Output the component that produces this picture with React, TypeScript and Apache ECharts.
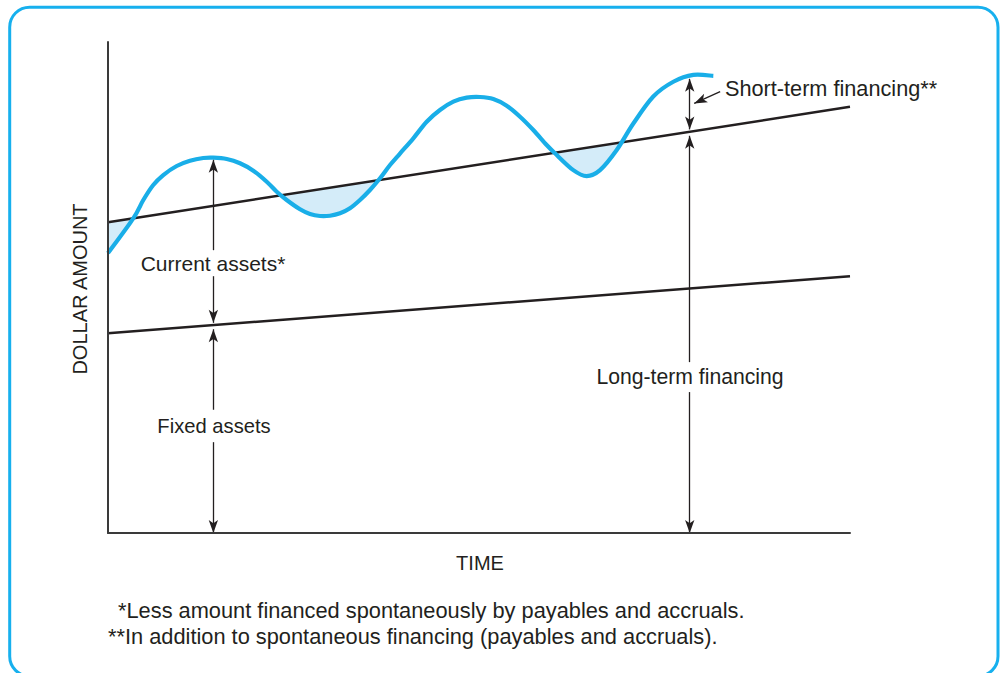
import React, { useEffect, useRef } from "react";
import * as echarts from "echarts";

// Time axis runs 0..100, dollar axis 0..100 (no tick labels shown)
const curveData: [number, number][] = [
  [0, 57.0], [3.41, 64.09], [4.76, 67.82], [6.1, 70.88], [7.45, 72.91], [9.26, 74.75],
  [11.05, 75.82], [12.84, 76.37], [14.19, 76.44], [16.0, 76.17], [17.79, 75.3], [19.58, 73.79],
  [21.39, 71.55], [22.74, 69.51], [24.08, 67.82], [25.88, 65.93], [27.22, 64.97], [28.57, 64.56],
  [29.92, 64.62], [31.27, 65.11], [32.61, 66.13], [33.96, 67.82], [35.31, 69.86], [36.66, 72.24],
  [38.01, 74.95], [39.35, 77.29], [41.15, 80.39], [42.95, 83.77], [44.74, 86.15], [46.54, 87.84],
  [48.34, 88.66], [50.13, 88.8], [51.93, 88.39], [53.73, 87.03], [55.53, 84.79], [57.32, 82.08],
  [59.12, 79.02], [60.24, 77.33], [62.71, 73.9], [64.51, 72.7], [66.31, 73.9], [68.56, 78.0],
  [70.8, 83.4], [73.49, 88.9], [76.19, 91.9], [78.89, 93.3], [81.58, 93.1],
];
const permanentLine: [number, number][] = [[0, 63.3], [100, 86.8]];
const fixedLine: [number, number][] = [[0, 40.7], [100, 52.3]];

// annotation arrows [fromX, fromY, toX, toY, doubleHeaded]
const arrowList: [number, number, number, number, boolean][] = [
  [14.2, 57.6, 14.2, 76.0, false],
  [14.2, 52.3, 14.2, 42.8, false],
  [14.2, 25.1, 14.2, 41.5, false],
  [14.2, 18.5, 14.2, 0, false],
  [78.4, 82.2, 78.4, 92.5, true],
  [78.4, 34.8, 78.4, 80.9, false],
  [78.4, 28.7, 78.4, 0, false],
  [82.5, 89.9, 79.0, 87.5, false],
];

const labelTexts = {
  current: "Current assets*",
  fixed: "Fixed assets",
  longTerm: "Long-term financing",
  shortTerm: "Short-term financing**",
  xName: "TIME",
  yName: "DOLLAR AMOUNT",
  note1: "*Less amount financed spontaneously by payables and accruals.",
  note2: "**In addition to spontaneous financing (payables and accruals).",
};

const INK = "#231f20";
const BLUE = "#19aee8";
const FILL = "#d4ecf9";
const FONT = "Liberation Sans";

function lineAt(line: [number, number][], x: number) {
  const [[x0, y0], [x1, y1]] = line;
  return y0 + ((y1 - y0) * (x - x0)) / (x1 - x0);
}

// Catmull-Rom spline through pixel points (from api.coord)
function splinePath(pts: number[][]) {
  const n = pts.length;
  let d = `M${pts[0][0]},${pts[0][1]}`;
  for (let i = 0; i < n - 1; i++) {
    const p0 = pts[Math.max(i - 1, 0)];
    const p1 = pts[i];
    const p2 = pts[i + 1];
    const p3 = pts[Math.min(i + 2, n - 1)];
    const c1x = p1[0] + (p2[0] - p0[0]) / 6;
    const c1y = p1[1] + (p2[1] - p0[1]) / 6;
    const c2x = p2[0] - (p3[0] - p1[0]) / 6;
    const c2y = p2[1] - (p3[1] - p1[1]) / 6;
    d += ` C${c1x},${c1y} ${c2x},${c2y} ${p2[0]},${p2[1]}`;
  }
  return d;
}

export default function App() {
  const ref = useRef<HTMLDivElement>(null);
  useEffect(() => {
    if (!ref.current) return;
    const chart = echarts.init(ref.current, null, { renderer: "svg" });
    const lastX = curveData[curveData.length - 1][0] - 0.4;
    const fillData = [permanentLine[0], [lastX, lineAt(permanentLine, lastX)]];
    const txt = (text: string, x: number, y: number, size: number, align = "center", extra: any = {}) => ({
      type: "text",
      x,
      y,
      z: 100,
      ...extra,
      style: { text, fill: INK, fontSize: size, fontFamily: FONT, align, verticalAlign: "middle" },
    });
    const curveRender = (mode: "fill" | "stroke") => (_params: any, api: any) => {
      const pts = curveData.map((p) => api.coord(p));
      let d = splinePath(pts);
      if (mode === "fill") {
        const base = api.coord([0, 0])[1];
        d += ` L${pts[pts.length - 1][0]},${base} L${pts[0][0]},${base} Z`;
        return { type: "path", shape: { pathData: d }, style: { fill: "#ffffff", stroke: "none" } };
      }
      return {
        type: "path",
        shape: { pathData: d },
        style: { fill: "none", stroke: BLUE, lineWidth: 4.2, lineCap: "butt", lineJoin: "round" },
      };
    };
    chart.setOption({
      animation: false,
      grid: { left: 108, right: 153, top: 42, bottom: 140 },
      xAxis: {
        type: "value", min: 0, max: 100, z: 10,
        axisLine: { show: true, lineStyle: { color: "#3a3a3a", width: 2 } },
        axisTick: { show: false }, axisLabel: { show: false }, splitLine: { show: false },
      },
      yAxis: {
        type: "value", min: 0, max: 100, z: 10,
        axisLine: { show: true, lineStyle: { color: "#3a3a3a", width: 2 } },
        axisTick: { show: false }, axisLabel: { show: false }, splitLine: { show: false },
      },
      series: [
        {
          type: "line", data: fillData, z: 1, symbol: "none", silent: true,
          lineStyle: { opacity: 0 }, areaStyle: { color: FILL, opacity: 1 },
        },
        {
          type: "custom", data: [curveData[0]], z: 2, silent: true, clip: false,
          renderItem: curveRender("fill"),
        },
        {
          type: "line", data: permanentLine, z: 3, symbol: "none", silent: true,
          lineStyle: { color: INK, width: 2.5 },
        },
        {
          type: "line", data: fixedLine, z: 3, symbol: "none", silent: true,
          lineStyle: { color: INK, width: 2.5 },
          markLine: {
            silent: true, symbol: ["none", "arrow"], symbolSize: [7, 13],
            lineStyle: { color: INK, width: 1.3, type: "solid" },
            label: { show: false },
            data: arrowList.map(([x1, y1, x2, y2, dbl]) => [
              { coord: [x1, y1], symbol: dbl ? "arrow" : "none" },
              { coord: [x2, y2], symbol: "arrow" },
            ]),
          },
        },
        {
          type: "custom", data: [curveData[0]], z: 4, silent: true, clip: false,
          renderItem: curveRender("stroke"),
        },
      ],
      graphic: [
        {
          type: "rect", z: 0,
          shape: { x: 9.7, y: 7.2, width: 988.3, height: 669, r: 20 },
          style: { fill: "none", stroke: "#17b0ee", lineWidth: 3 },
        },
        txt(labelTexts.current, 213, 263, 21),
        txt(labelTexts.fixed, 214, 426, 20.2),
        txt(labelTexts.longTerm, 690, 376, 21.2),
        txt(labelTexts.shortTerm, 725, 88, 21.7, "left"),
        txt(labelTexts.xName, 480, 563, 20),
        txt(labelTexts.yName, 80, 289, 20, "center", { rotation: Math.PI / 2 }),
        txt(labelTexts.note1, 118, 610, 21.8, "left"),
        txt(labelTexts.note2, 108, 636, 21.8, "left"),
      ],
    });
    return () => chart.dispose();
  }, []);
  return <div ref={ref} style={{ position: "absolute", left: 0, top: 0, width: 1003, height: 673 }} />;
}
